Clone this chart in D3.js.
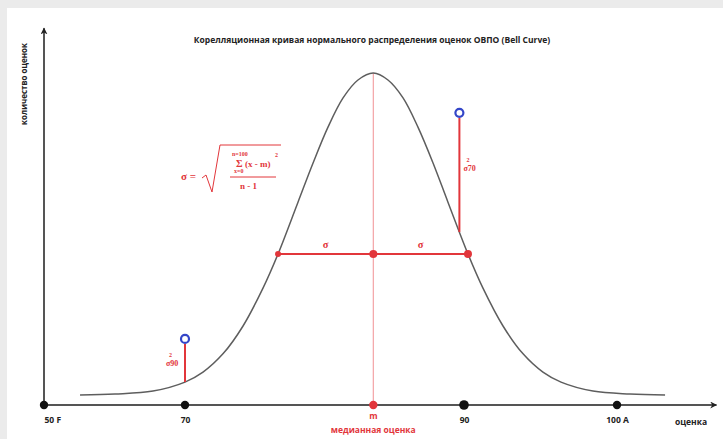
<!DOCTYPE html>
<html>
<head>
<meta charset="utf-8">
<script src="https://cdn.jsdelivr.net/npm/d3@7"></script>
<style>
	html, body { margin: 0; padding: 0; background: #ebebeb; }
	svg { display: block; }
	.lbl { font-family: 'Open Sans', sans-serif; font-weight: 700; fill: #222; }
	.red { fill: #e2363b; }
	.formula { font-family: 'Liberation Serif', serif; font-weight: 700; fill: #e2363b; }
</style>
</head>
<body>
<svg id="bell-chart" width="723" height="439"></svg>
<script>
// ticks on the score axis
var tickScores = [50, 70, 90, 100],
	tickLabels = ['50 F', '70', '90', '100 A'];

// the bell curve (score, number of marks)
var curveScores = [55.11, 60.07, 65.46, 70, 71.29, 72.72, 74.16, 75.59, 76.67, 78.10, 79.18, 80.25, 81.33, 82.40, 83.5,
		84.55, 85.63, 86.70, 87.78, 88.85, 90.26, 91.24, 92.55, 93.86, 95.16, 96.34, 98.43, 100.85, 103.14],
	curveCounts = [3.0, 3.3, 4.2, 6.9, 9.9, 15.4, 23.8, 35.2, 45.5, 61.1, 72.9, 83.7, 92.5, 97.9, 100,
		97.9, 92.5, 83.7, 72.9, 61.1, 45.5, 35.2, 23.8, 15.4, 9.9, 6.9, 4.2, 3.3, 3.0];

// median and one sigma either side
var medianScore = 83.5,
	peakCount = 100,
	sigmaScores = [76.67, 83.5, 90.26],
	sigmaCount = 45.5;

// variance stems
var stemScores = [70, 89.67],
	stemBottoms = [6.9, 52.1],
	stemTops = [19.9, 88.0],
	stemLabels = ['90', '70'];

window.app = window.app || {};

app.bellChart = (function() {

	'use strict';

	var createBellChart = function() {
		var svg = d3.select('#bell-chart'),
			red = '#e2363b',
			axisColor = '#555';

		// gray frame, white sheet
		svg.append('rect').attr('x', 0).attr('y', 0).attr('width', 723).attr('height', 439).attr('fill', '#ebebeb');
		svg.append('rect').attr('x', 7).attr('y', 8).attr('width', 716).attr('height', 431).attr('fill', '#fff');

		// hand drawn axis, the score spacing is not even
		var xScale = d3.scaleLinear()
				.domain([50, 70, 90, 100, 106.5])
				.range([44, 185, 464, 617, 716.5]);

		var yScale = d3.scaleLinear()
				.domain([0, 100])
				.range([405, 73]);

		var defs = svg.append('defs');
		defs.append('marker')
			.attr('id', 'arrow')
			.attr('viewBox', '0 0 10 10')
			.attr('refX', 9)
			.attr('refY', 5)
			.attr('markerWidth', 7)
			.attr('markerHeight', 7)
			.attr('markerUnits', 'userSpaceOnUse')
			.attr('orient', 'auto')
			.append('path')
			.attr('d', 'M0,0 L10,5 L0,10 L3,5 Z')
			.attr('fill', '#222');

		// axes lines
		svg.append('line')
			.attr('x1', xScale(50)).attr('y1', yScale(0))
			.attr('x2', xScale(106.5)).attr('y2', yScale(0))
			.attr('stroke', axisColor).attr('stroke-width', 2)
			.attr('marker-end', 'url(#arrow)');

		svg.append('line')
			.attr('x1', xScale(50)).attr('y1', yScale(0))
			.attr('x2', xScale(50)).attr('y2', yScale(113.5))
			.attr('stroke', axisColor).attr('stroke-width', 2)
			.attr('marker-end', 'url(#arrow)');

		// median line behind the curve
		svg.append('line')
			.attr('x1', xScale(medianScore)).attr('y1', yScale(peakCount))
			.attr('x2', xScale(medianScore)).attr('y2', yScale(0))
			.attr('stroke', '#f3a3a5').attr('stroke-width', 1.2);

		// bell curve
		var points = curveScores.map(function(s, i) {
			return [s, curveCounts[i]];
		});

		var line = d3.line()
				.x(function(d) { return xScale(d[0]); })
				.y(function(d) { return yScale(d[1]); })
				.curve(d3.curveCatmullRom.alpha(0.5));

		svg.append('path')
			.datum(points)
			.attr('d', line)
			.attr('fill', 'none')
			.attr('stroke', '#5e5e5e')
			.attr('stroke-width', 1.5);

		// sigma bar
		svg.append('line')
			.attr('x1', xScale(sigmaScores[0])).attr('y1', yScale(sigmaCount))
			.attr('x2', xScale(sigmaScores[2])).attr('y2', yScale(sigmaCount))
			.attr('stroke', red).attr('stroke-width', 2);

		svg.selectAll('.sigma-dot')
			.data(sigmaScores)
			.enter()
			.append('circle')
			.attr('class', 'sigma-dot')
			.attr('cx', function(d) { return xScale(d); })
			.attr('cy', yScale(sigmaCount))
			.attr('r', function(d, i) { return i === 0 ? 3 : 4; })
			.attr('fill', red);

		svg.selectAll('.sigma-lbl')
			.data([0, 1])
			.enter()
			.append('text')
			.attr('class', 'formula')
			.attr('x', function(i) { return (xScale(sigmaScores[i]) + xScale(sigmaScores[i + 1])) / 2; })
			.attr('y', yScale(sigmaCount) - 6)
			.attr('text-anchor', 'middle')
			.attr('font-size', 10.5)
			.text('σ');

		// variance stems
		var stems = svg.selectAll('.stem')
				.data(stemScores)
				.enter()
				.append('g')
				.attr('class', 'stem');

		stems.append('line')
			.attr('x1', function(d) { return xScale(d); })
			.attr('x2', function(d) { return xScale(d); })
			.attr('y1', function(d, i) { return yScale(stemTops[i]) + 5; })
			.attr('y2', function(d, i) { return yScale(stemBottoms[i]); })
			.attr('stroke', red).attr('stroke-width', 2);

		stems.append('circle')
			.attr('cx', function(d) { return xScale(d); })
			.attr('cy', function(d, i) { return yScale(stemTops[i]); })
			.attr('r', 4)
			.attr('fill', '#fff')
			.attr('stroke', '#3446c8')
			.attr('stroke-width', 2.2);

		var stemText = stems.append('text')
			.attr('class', 'formula')
			.attr('font-size', 8)
			.attr('x', function(d, i) { return i === 0 ? xScale(d) - 19 : xScale(d) + 4; })
			.attr('y', function(d, i) { return i === 0 ? 366 : 171; });
		stemText.append('tspan').text('σ');
		stemText.append('tspan').text(function(d, i) { return stemLabels[i]; });
		stems.append('text')
			.attr('class', 'formula')
			.attr('font-size', 6)
			.attr('x', function(d, i) { return i === 0 ? xScale(d) - 16 : xScale(d) + 7; })
			.attr('y', function(d, i) { return i === 0 ? 357 : 162; })
			.text('2');

		// formula
		var f = svg.append('g').attr('class', 'formula');
		f.append('text').attr('x', 181).attr('y', 180).attr('font-size', 11).text('σ =');
		f.append('path')
			.attr('d', 'M202,178 L206,175 L212,192 L220,145 L281,145')
			.attr('fill', 'none').attr('stroke', red).attr('stroke-width', 1);
		f.append('text').attr('x', 232).attr('y', 156).attr('font-size', 6).text('n=100');
		f.append('text').attr('x', 236).attr('y', 167).attr('font-size', 10).text('Σ');
		f.append('text').attr('x', 245).attr('y', 167).attr('font-size', 9).text('(x - m)');
		f.append('text').attr('x', 275).attr('y', 157).attr('font-size', 6).text('2');
		f.append('text').attr('x', 234).attr('y', 173).attr('font-size', 6).text('x=0');
		f.append('line').attr('x1', 230).attr('x2', 276).attr('y1', 177).attr('y2', 177)
			.attr('stroke', red).attr('stroke-width', 1);
		f.append('text').attr('x', 240).attr('y', 189).attr('font-size', 9).text('n - 1');

		// x axis: no tick lines, only dots
		var xAxis = d3.axisBottom(xScale)
				.tickValues(tickScores)
				.tickSize(0)
				.tickPadding(12)
				.tickFormat(function(d, i) { return tickLabels[i]; });

		var axisG = svg.append('g')
			.attr('transform', 'translate(0,' + yScale(0) + ')')
			.call(xAxis);
		axisG.select('.domain').remove();
		axisG.selectAll('text')
			.attr('class', 'lbl')
			.attr('font-size', 8.5)
			.attr('text-anchor', function(d, i) { return i === 0 ? 'start' : 'middle'; });

		svg.selectAll('.tick-dot')
			.data(tickScores)
			.enter()
			.append('circle')
			.attr('class', 'tick-dot')
			.attr('cx', function(d) { return xScale(d); })
			.attr('cy', yScale(0))
			.attr('r', function(d) { return d === 90 ? 4.8 : 4.2; })
			.attr('fill', '#111');

		svg.append('circle')
			.attr('cx', xScale(medianScore)).attr('cy', yScale(0))
			.attr('r', 4.2).attr('fill', red);

		svg.append('text').attr('class', 'lbl red').attr('font-size', 8.5)
			.attr('x', xScale(medianScore)).attr('y', 419).attr('text-anchor', 'middle').text('m');
		svg.append('text').attr('class', 'lbl red').attr('font-size', 8.5)
			.attr('x', xScale(medianScore)).attr('y', 433).attr('text-anchor', 'middle').text('медианная оценка');
		svg.append('text').attr('class', 'lbl').attr('font-size', 8.5)
			.attr('x', 691).attr('y', 425).attr('text-anchor', 'middle').text('оценка');

		// y label and title
		svg.append('text').attr('class', 'lbl').attr('font-size', 8)
			.attr('transform', 'translate(27,84) rotate(-90)')
			.attr('text-anchor', 'middle')
			.text('количество оценок');

		svg.append('text').attr('class', 'lbl').attr('font-size', 8.5)
			.attr('x', 372).attr('y', 43).attr('text-anchor', 'middle')
			.text('Корелляционная кривая нормального распределения оценок ОВПО (Bell Curve)');
	};

	var init = function() {
		createBellChart();
	};

	return {
		init: init
	};

})();

app.bellChart.init();
</script>
</body>
</html>
